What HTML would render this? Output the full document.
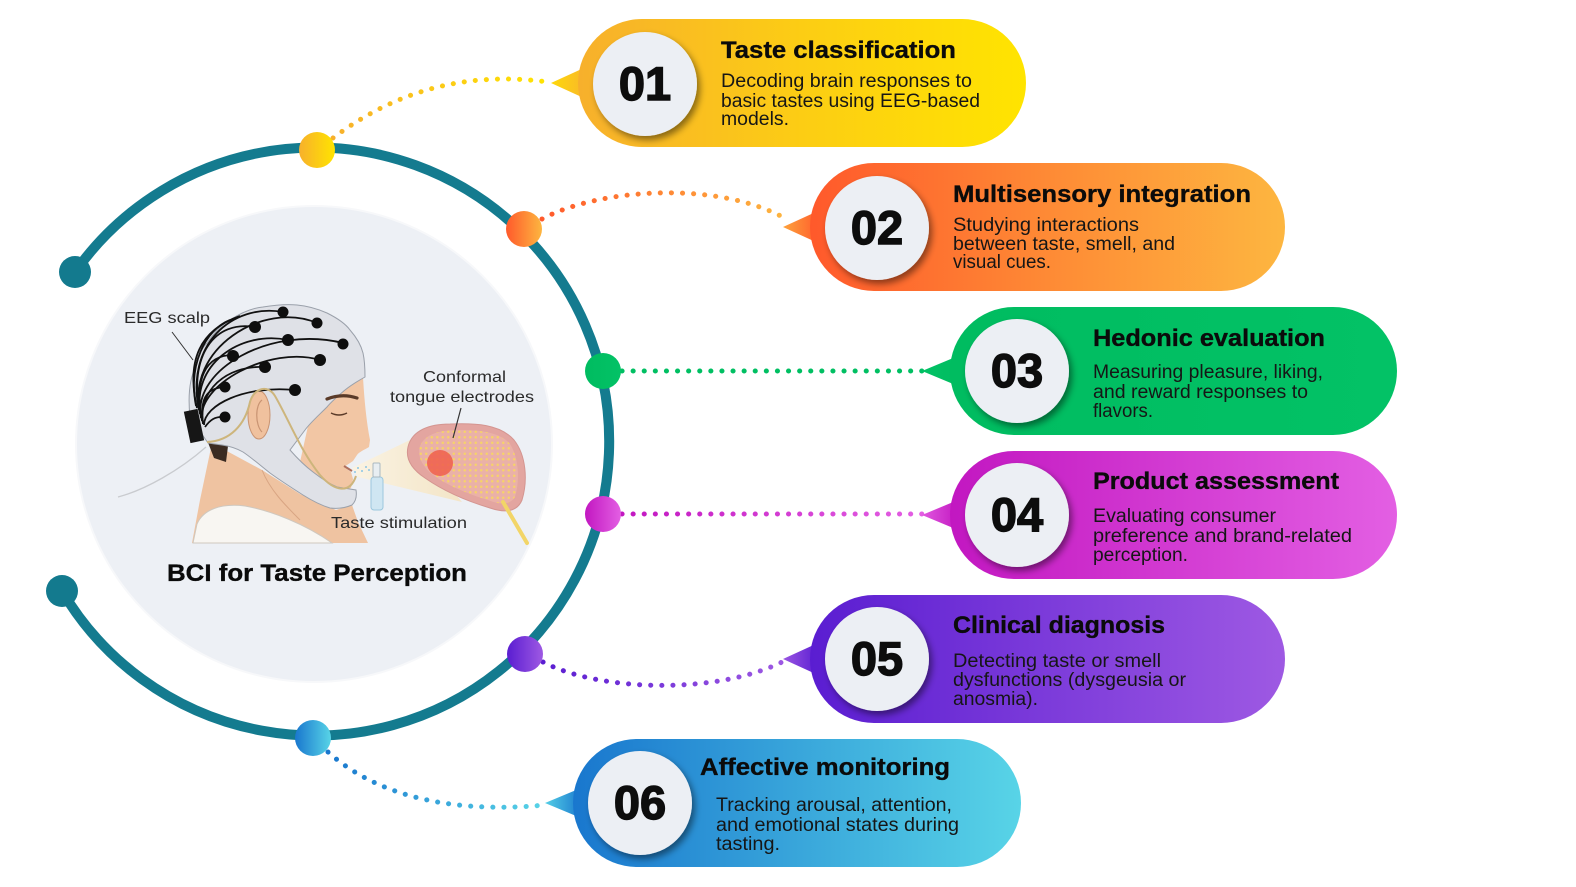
<!DOCTYPE html>
<html><head><meta charset="utf-8"><style>
html,body{margin:0;padding:0;background:#fff;}
svg{display:block;}
.t{font-family:"Liberation Sans",Arial,sans-serif;font-weight:bold;font-size:24px;fill:#0b0b0b;stroke:#0b0b0b;stroke-width:0.35px;}
.d{font-family:"Liberation Sans",Arial,sans-serif;font-size:19px;fill:#161616;}
.n{font-family:"Liberation Sans",Arial,sans-serif;font-weight:bold;font-size:47px;fill:#0d0d0d;stroke:#0d0d0d;stroke-width:1.4px;}
.l{font-family:"Liberation Sans",Arial,sans-serif;font-size:16px;fill:#2a2a2a;}
</style></head><body>
<svg width="1576" height="887" viewBox="0 0 1576 887" xmlns="http://www.w3.org/2000/svg">
<defs>
<linearGradient id="g1" gradientUnits="userSpaceOnUse" x1="578" y1="0" x2="1026" y2="0"><stop offset="0" stop-color="#f7b02c"/><stop offset=".5" stop-color="#fccd14"/><stop offset="1" stop-color="#ffe400"/></linearGradient>
<linearGradient id="g2" gradientUnits="userSpaceOnUse" x1="810" y1="0" x2="1285" y2="0"><stop offset="0" stop-color="#ff592b"/><stop offset=".5" stop-color="#fe8a35"/><stop offset="1" stop-color="#fdb640"/></linearGradient>
<linearGradient id="g3" gradientUnits="userSpaceOnUse" x1="950" y1="0" x2="1397" y2="0"><stop offset="0" stop-color="#00bc60"/><stop offset="1" stop-color="#03c266"/></linearGradient>
<linearGradient id="g4" gradientUnits="userSpaceOnUse" x1="950" y1="0" x2="1397" y2="0"><stop offset="0" stop-color="#c217c1"/><stop offset="1" stop-color="#e35fe3"/></linearGradient>
<linearGradient id="g5" gradientUnits="userSpaceOnUse" x1="810" y1="0" x2="1285" y2="0"><stop offset="0" stop-color="#5a1dd1"/><stop offset="1" stop-color="#9e59e3"/></linearGradient>
<linearGradient id="g6" gradientUnits="userSpaceOnUse" x1="573" y1="0" x2="1021" y2="0"><stop offset="0" stop-color="#1977ce"/><stop offset="1" stop-color="#58d4e7"/></linearGradient>

<linearGradient id="b1" x1="0" y1="0" x2="1" y2="0"><stop offset="0" stop-color="#f7b02c"/><stop offset="1" stop-color="#ffe400"/></linearGradient>
<linearGradient id="b2" x1="0" y1="0" x2="1" y2="0"><stop offset="0" stop-color="#ff592b"/><stop offset="1" stop-color="#fdb640"/></linearGradient>
<linearGradient id="b3" x1="0" y1="0" x2="1" y2="0"><stop offset="0" stop-color="#00bc60"/><stop offset="1" stop-color="#03c266"/></linearGradient>
<linearGradient id="b4" x1="0" y1="0" x2="1" y2="0"><stop offset="0" stop-color="#c217c1"/><stop offset="1" stop-color="#e35fe3"/></linearGradient>
<linearGradient id="b5" x1="0" y1="0" x2="1" y2="0"><stop offset="0" stop-color="#5a1dd1"/><stop offset="1" stop-color="#9e59e3"/></linearGradient>
<linearGradient id="b6" x1="0" y1="0" x2="1" y2="0"><stop offset="0" stop-color="#1977ce"/><stop offset="1" stop-color="#58d4e7"/></linearGradient>

<linearGradient id="p1" x1="0" y1="0" x2="1" y2="0"><stop offset="0" stop-color="#fed80a"/><stop offset="1" stop-color="#f9b82a"/></linearGradient>
<linearGradient id="p2" x1="0" y1="0" x2="1" y2="0"><stop offset="0" stop-color="#fea23c"/><stop offset="1" stop-color="#ff5f2c"/></linearGradient>
<linearGradient id="p3" x1="0" y1="0" x2="1" y2="0"><stop offset="0" stop-color="#03c266"/><stop offset="1" stop-color="#00bc60"/></linearGradient>
<linearGradient id="p4" x1="0" y1="0" x2="1" y2="0"><stop offset="0" stop-color="#e058df"/><stop offset="1" stop-color="#c31ac2"/></linearGradient>
<linearGradient id="p5" x1="0" y1="0" x2="1" y2="0"><stop offset="0" stop-color="#9a55e2"/><stop offset="1" stop-color="#5c1fd2"/></linearGradient>
<linearGradient id="p6" x1="0" y1="0" x2="1" y2="0"><stop offset="0" stop-color="#55cfe6"/><stop offset="1" stop-color="#1b7bcf"/></linearGradient>

<linearGradient id="c4" gradientUnits="userSpaceOnUse" x1="622" y1="0" x2="922" y2="0"><stop offset="0" stop-color="#c217c1"/><stop offset="1" stop-color="#e35fe3"/></linearGradient>

<linearGradient id="beam" x1="0" y1="0" x2="1" y2="0"><stop offset="0" stop-color="#fbf3e2" stop-opacity=".95"/><stop offset="1" stop-color="#f4e4c2" stop-opacity=".9"/></linearGradient>
<pattern id="tdots" width="5.5" height="5.5" patternUnits="userSpaceOnUse"><circle cx="2.75" cy="2.75" r="1.25" fill="#f6d26a"/></pattern>
<filter id="sh" x="-30%" y="-30%" width="170%" height="170%"><feDropShadow dx="3" dy="4" stdDeviation="3.5" flood-color="#000" flood-opacity="0.45"/></filter>
</defs>

<!-- inner light circle -->
<circle cx="314" cy="444" r="238" fill="#edf0f5" stroke="#f7f8fa" stroke-width="2"/>

<!-- ring -->
<path d="M 75 272 A 294 294 0 1 1 62 591" fill="none" stroke="#147b8f" stroke-width="10"/>
<circle cx="75" cy="272" r="16" fill="#137a8e"/>
<circle cx="62" cy="591" r="16" fill="#137a8e"/>

<!-- connectors -->
<g fill="none" stroke-width="5" stroke-linecap="round" stroke-dasharray="0.1 11">
<path d="M 333 138 C 390 95, 460 70, 548 82" stroke="url(#b1)"/>
<path d="M 542 219 C 600 188, 720 180, 788 220" stroke="url(#b2)"/>
<path d="M 622 371 L 922 371" stroke="#00bf62"/>
<path d="M 622 514 L 922 514" stroke="url(#c4)"/>
<path d="M 543 662 C 600 692, 720 695, 786 660" stroke="url(#b5)"/>
<path d="M 328 752 C 370 790, 440 815, 545 805" stroke="url(#b6)"/>
</g>

<!-- ring dots -->
<circle cx="317" cy="150" r="18" fill="url(#b1)"/>
<circle cx="524" cy="229" r="18" fill="url(#b2)"/>
<circle cx="603" cy="371" r="18" fill="url(#b3)"/>
<circle cx="603" cy="514" r="18" fill="url(#b4)"/>
<circle cx="525" cy="654" r="18" fill="url(#b5)"/>
<circle cx="313" cy="738" r="18" fill="url(#b6)"/>

<!-- pills -->
<!-- 01 -->
<polygon points="551,83 586,67 586,99" fill="url(#p1)"/>
<rect x="578" y="19" width="448" height="128" rx="64" fill="url(#g1)"/>
<circle cx="645" cy="84" r="52" fill="#eceff4" filter="url(#sh)"/>
<text class="n" x="645" y="100" text-anchor="middle">01</text>
<text class="t" x="721" y="58" textLength="235" lengthAdjust="spacingAndGlyphs">Taste classification</text>
<text class="d" x="721" y="87" textLength="251" lengthAdjust="spacingAndGlyphs">Decoding brain responses to</text>
<text class="d" x="721" y="107" textLength="259" lengthAdjust="spacingAndGlyphs">basic tastes using EEG-based</text>
<text class="d" x="721" y="125" textLength="68" lengthAdjust="spacingAndGlyphs">models.</text>

<!-- 02 -->
<polygon points="783,227 818,211 818,243" fill="url(#p2)"/>
<rect x="810" y="163" width="475" height="128" rx="64" fill="url(#g2)"/>
<circle cx="877" cy="228" r="52" fill="#eceff4" filter="url(#sh)"/>
<text class="n" x="877" y="244" text-anchor="middle">02</text>
<text class="t" x="953" y="202" textLength="298" lengthAdjust="spacingAndGlyphs">Multisensory integration</text>
<text class="d" x="953" y="231" textLength="186" lengthAdjust="spacingAndGlyphs">Studying interactions</text>
<text class="d" x="953" y="250" textLength="222" lengthAdjust="spacingAndGlyphs">between taste, smell, and</text>
<text class="d" x="953" y="268" textLength="98" lengthAdjust="spacingAndGlyphs">visual cues.</text>

<!-- 03 -->
<polygon points="922,371 958,356 958,386" fill="url(#p3)"/>
<rect x="950" y="307" width="447" height="128" rx="64" fill="url(#g3)"/>
<circle cx="1017" cy="371" r="52" fill="#eceff4" filter="url(#sh)"/>
<text class="n" x="1017" y="387" text-anchor="middle">03</text>
<text class="t" x="1093" y="346" textLength="232" lengthAdjust="spacingAndGlyphs">Hedonic evaluation</text>
<text class="d" x="1093" y="378" textLength="230" lengthAdjust="spacingAndGlyphs">Measuring pleasure, liking,</text>
<text class="d" x="1093" y="398" textLength="215" lengthAdjust="spacingAndGlyphs">and reward responses to</text>
<text class="d" x="1093" y="417" textLength="60" lengthAdjust="spacingAndGlyphs">flavors.</text>

<!-- 04 -->
<polygon points="922,515 958,500 958,530" fill="url(#p4)"/>
<rect x="950" y="451" width="447" height="128" rx="64" fill="url(#g4)"/>
<circle cx="1017" cy="515" r="52" fill="#eceff4" filter="url(#sh)"/>
<text class="n" x="1017" y="531" text-anchor="middle">04</text>
<text class="t" x="1093" y="489" textLength="246" lengthAdjust="spacingAndGlyphs">Product assessment</text>
<text class="d" x="1093" y="522" textLength="183" lengthAdjust="spacingAndGlyphs">Evaluating consumer</text>
<text class="d" x="1093" y="542" textLength="259" lengthAdjust="spacingAndGlyphs">preference and brand-related</text>
<text class="d" x="1093" y="561" textLength="95" lengthAdjust="spacingAndGlyphs">perception.</text>

<!-- 05 -->
<polygon points="783,659 818,643 818,675" fill="url(#p5)"/>
<rect x="810" y="595" width="475" height="128" rx="64" fill="url(#g5)"/>
<circle cx="877" cy="659" r="52" fill="#eceff4" filter="url(#sh)"/>
<text class="n" x="877" y="675" text-anchor="middle">05</text>
<text class="t" x="953" y="633" textLength="212" lengthAdjust="spacingAndGlyphs">Clinical diagnosis</text>
<text class="d" x="953" y="667" textLength="208" lengthAdjust="spacingAndGlyphs">Detecting taste or smell</text>
<text class="d" x="953" y="686" textLength="233" lengthAdjust="spacingAndGlyphs">dysfunctions (dysgeusia or</text>
<text class="d" x="953" y="705" textLength="85" lengthAdjust="spacingAndGlyphs">anosmia).</text>

<!-- 06 -->
<polygon points="545,803 581,788 581,818" fill="url(#p6)"/>
<rect x="573" y="739" width="448" height="128" rx="64" fill="url(#g6)"/>
<circle cx="640" cy="803" r="52" fill="#eceff4" filter="url(#sh)"/>
<text class="n" x="640" y="819" text-anchor="middle">06</text>
<text class="t" x="700" y="775" textLength="250" lengthAdjust="spacingAndGlyphs">Affective monitoring</text>
<text class="d" x="716" y="811" textLength="236" lengthAdjust="spacingAndGlyphs">Tracking arousal, attention,</text>
<text class="d" x="716" y="831" textLength="243" lengthAdjust="spacingAndGlyphs">and emotional states during</text>
<text class="d" x="716" y="850" textLength="64" lengthAdjust="spacingAndGlyphs">tasting.</text>

<!-- ILLUSTRATION -->
<g>
<path d="M 206 447 C 180 470, 145 490, 118 497" fill="none" stroke="#c9cbcf" stroke-width="1.3"/>
<path d="M 212 443 L 262 470 L 300 494 L 336 510 L 352 505 L 358 522 L 368 543 L 192 543 L 200 500 Z" fill="#efc3a1"/>
<path d="M 262 470 C 270 490, 285 505, 300 520" fill="none" stroke="#d9a583" stroke-width="1"/>
<path d="M 207 440 L 228 446 L 226 462 L 214 458 Z" fill="#3b2b22"/>
<path d="M 193 543 L 197 524 C 203 510, 220 503, 245 506 C 272 511, 305 524, 332 543 Z" fill="#f8f6f2" stroke="#cfc8bf" stroke-width="1"/>
<path d="M 320 372 L 363 377 C 364 395, 366 420, 370 440 L 369 447 C 364 450, 359 452, 357 455 L 353 461 L 344 467 L 351 472 L 353 479 L 351 488 L 338 492 L 300 462 Z" fill="#f2c6a4"/>
<path d="M 344 466 L 352 471" stroke="#b0705c" stroke-width="2"/>
<path d="M 208 443 L 190 417 C 188 398, 189 385, 193 373 C 197 360, 200 350, 207 343 C 214 333, 220 326, 230 320 C 242 312, 252 308, 263 307 C 275 305, 286 304, 297 305 C 308 306, 318 309, 327 313 C 337 318, 345 323, 350 330 C 357 338, 361 345, 363 353 C 365 362, 365 370, 365 377 C 356 382, 350 386, 345 390 C 338 396, 332 401, 327 407 C 318 416, 310 423, 305 430 L 290 450 C 297 458, 305 466, 313 472 C 322 479, 330 484, 337 487 L 356 490 C 357 496, 356 501, 352 505 C 345 508, 337 509, 330 508 C 320 505, 311 500, 303 495 C 292 488, 281 481, 270 473 C 261 466, 252 458, 243 452 C 236 448, 229 446, 222 445 Z" fill="#dfe1e7" stroke="#9aa0aa" stroke-width="1"/>
<ellipse cx="259" cy="415" rx="11" ry="24" fill="#f0c19e" stroke="#c99473" stroke-width="1"/>
<path d="M 262 400 C 255 405, 255 425, 262 432" fill="none" stroke="#c99473" stroke-width="1.2"/>
<path d="M 327 399 Q 342 393 357 398" fill="none" stroke="#5a3a28" stroke-width="3.2" stroke-linecap="round"/>
<path d="M 331 413 Q 339 417 347 413" fill="none" stroke="#5a3a28" stroke-width="1.5"/>
<g fill="none" stroke="#111" stroke-width="1.8">
<path d="M 199 410 C 185 345, 232 303, 283 312"/>
<path d="M 200 412 C 186 350, 262 300, 317 323"/>
<path d="M 200 414 C 188 355, 215 320, 255 327"/>
<path d="M 201 416 C 190 365, 240 330, 288 340"/>
<path d="M 201 418 C 192 370, 270 325, 343 343"/>
<path d="M 202 420 C 194 380, 205 355, 233 355"/>
<path d="M 202 421 C 196 385, 270 345, 320 360"/>
<path d="M 203 423 C 198 392, 225 365, 265 367"/>
<path d="M 203 424 C 200 400, 205 388, 225 387"/>
<path d="M 204 425 C 204 405, 245 385, 295 390"/>
<path d="M 205 427 C 210 420, 215 416, 225 417"/>
<path d="M 197 408 C 186 360, 200 330, 240 316"/>
<path d="M 196 406 C 188 365, 205 330, 230 320"/>
</g>
<g fill="#0e0e0e">
<circle cx="283" cy="312" r="5.5"/><circle cx="317" cy="323" r="5.5"/><circle cx="255" cy="327" r="6"/>
<circle cx="288" cy="340" r="6"/><circle cx="343" cy="344" r="5.5"/><circle cx="233" cy="356" r="6"/>
<circle cx="320" cy="360" r="6"/><circle cx="265" cy="367" r="6"/><circle cx="225" cy="387" r="5.5"/>
<circle cx="295" cy="390" r="6"/><circle cx="225" cy="417" r="5.5"/>
</g>
<rect x="187" y="410" width="14" height="32" transform="rotate(-12 194 426)" fill="#161616"/>
<path d="M 207 442 C 230 441, 245 425, 250 402 C 254 388, 268 384, 275 396 C 289 420, 300 450, 320 475 C 335 492, 350 494, 356 476" fill="none" stroke="#cdb57c" stroke-width="2"/>
<polygon points="352,468 410,440 462,502 358,477" fill="url(#beam)"/>
<rect x="371" y="477" width="12" height="33" rx="3" fill="#cfe6f2" stroke="#9cc7dd" stroke-width="1"/>
<rect x="373" y="463" width="7" height="14" rx="1" fill="#e8eef2" stroke="#aab8c0" stroke-width="1"/>
<g fill="#8cc6e6"><circle cx="358" cy="468" r="1"/><circle cx="362" cy="471" r="1"/><circle cx="366" cy="467" r="1"/><circle cx="355" cy="472" r="1"/><circle cx="369" cy="470" r="1"/></g>
<path d="M 408 447 C 412 430, 430 424, 450 424 C 475 423, 500 424, 514 440 C 526 455, 528 480, 522 500 C 517 512, 505 513, 490 508 C 470 502, 445 492, 425 478 C 413 470, 405 460, 408 447 Z" fill="#e3a5a0" stroke="#d49590" stroke-width="1"/>
<path d="M 420 446 C 425 434, 440 430, 458 430 C 480 430, 500 432, 510 444 C 519 458, 520 480, 515 497 C 510 505, 500 505, 488 500 C 468 494, 446 485, 432 474 C 422 466, 417 456, 420 446 Z" fill="#eab1a8"/>
<path d="M 420 446 C 425 434, 440 430, 458 430 C 480 430, 500 432, 510 444 C 519 458, 520 480, 515 497 C 510 505, 500 505, 488 500 C 468 494, 446 485, 432 474 C 422 466, 417 456, 420 446 Z" fill="url(#tdots)"/>
<circle cx="440" cy="463" r="13" fill="#ef6450" opacity=".9"/>
<path d="M 503 502 L 527 543" stroke="#f2d567" stroke-width="4" stroke-linecap="round"/>
<line x1="172" y1="332" x2="193" y2="360" stroke="#333" stroke-width="1"/>
<line x1="461" y1="408" x2="453" y2="438" stroke="#333" stroke-width="1.2"/>
<text class="l" x="124" y="323" textLength="86" lengthAdjust="spacingAndGlyphs">EEG scalp</text>
<text class="l" x="423" y="382" textLength="83" lengthAdjust="spacingAndGlyphs">Conformal</text>
<text class="l" x="390" y="402" textLength="144" lengthAdjust="spacingAndGlyphs">tongue electrodes</text>
<text class="l" x="331" y="528" textLength="136" lengthAdjust="spacingAndGlyphs">Taste stimulation</text>
</g>
<text x="167" y="581" font-family="Liberation Sans, Arial, sans-serif" font-weight="bold" font-size="24" fill="#0b0b0b" stroke="#0b0b0b" stroke-width="0.35" textLength="300" lengthAdjust="spacingAndGlyphs">BCI for Taste Perception</text>
</svg>
</body></html>
